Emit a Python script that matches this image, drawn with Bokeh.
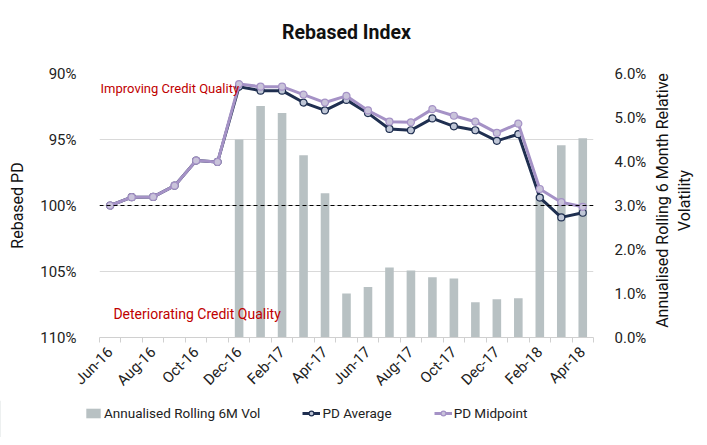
import math
from bokeh.plotting import figure
from bokeh.layouts import column, row
from bokeh.models import (Range1d, LinearAxis, FixedTicker, Span, Label, Legend,
                          LegendItem, PrintfTickFormatter)
from bokeh.embed import file_html
from bokeh.resources import INLINE

months = ["Jun-16", "Jul-16", "Aug-16", "Sep-16", "Oct-16", "Nov-16", "Dec-16",
          "Jan-17", "Feb-17", "Mar-17", "Apr-17", "May-17", "Jun-17", "Jul-17",
          "Aug-17", "Sep-17", "Oct-17", "Nov-17", "Dec-17", "Jan-18", "Feb-18",
          "Mar-18", "Apr-18"]
pd_average = [100.0, 99.37, 99.35, 98.5, 96.6, 96.7, 91.0, 91.3, 91.3, 92.2, 92.8,
              92.0, 93.0, 94.2, 94.3, 93.4, 94.0, 94.3, 95.1, 94.6, 99.4, 100.9, 100.55]
pd_midpoint = [100.0, 99.37, 99.35, 98.5, 96.6, 96.7, 90.8, 91.0, 91.0, 91.6, 92.2,
               91.7, 92.8, 93.65, 93.7, 92.7, 93.2, 93.65, 94.5, 93.8, 98.75, 99.75, 100.1]
vol = [0, 0, 0, 0, 0, 0, 4.50, 5.26, 5.10, 4.14, 3.28, 1.00, 1.15, 1.59, 1.52, 1.37,
       1.34, 0.80, 0.87, 0.89, 3.23, 4.37, 4.53]
left_ticks = [90, 95, 100, 105, 110]
right_ticks = [0, 1, 2, 3, 4, 5, 6]
series_names = ["Annualised Rolling 6M Vol", "PD Average", "PD Midpoint"]
chart_title = "Rebased Index"
right_title = ["Annualised Rolling 6 Month Relative", "Volatility"]

FONT = "Roboto"
dark = "#1f2f50"
purple = "#a592c6"
bar_color = "#b8c1c3"
dark_fill = "#bfc6d6"
purple_fill = "#c9c3da"
red = "#c00000"
x = list(range(len(months)))


def strip(width, height, xr=(0, 1), yr=(0, 1)):
    f = figure(width=width, height=height, output_backend="svg", toolbar_location=None,
               x_axis_type=None, y_axis_type=None, x_range=Range1d(*xr),
               y_range=Range1d(*yr), min_border_left=0, min_border_right=0,
               min_border_top=0, min_border_bottom=0)
    f.outline_line_color = None
    f.xgrid.grid_line_color = None
    f.ygrid.grid_line_color = None
    return f


# title strip
ts = strip(649, 45, yr=(0, 45))
ts.add_layout(Label(x=0.5, y=13, text=chart_title, text_align="center",
                    text_baseline="middle", text_font=FONT, text_font_size="19.5px",
                    text_font_style="bold", text_color="#111111"))

p = figure(width=649, height=355, output_backend="svg", toolbar_location=None,
           x_range=Range1d(-0.5, len(months) - 0.5), y_range=Range1d(110, 90),
           min_border_left=99, min_border_right=51, min_border_top=28,
           min_border_bottom=63)
p.outline_line_color = None
p.extra_y_ranges = {"vol": Range1d(0, 6)}

# left axis
ya = p.yaxis[0]
ya.ticker = FixedTicker(ticks=left_ticks)
ya.formatter = PrintfTickFormatter(format="%d%%")
ya.axis_line_color = None
ya.major_tick_line_color = None
ya.minor_tick_line_color = None
ya.major_label_text_font = FONT
ya.major_label_text_font_size = "15px"
ya.major_label_text_color = "#222222"
ya.major_label_standoff = 17
ya.axis_label = "Rebased PD"
ya.axis_label_text_font = FONT
ya.axis_label_text_font_size = "16px"
ya.axis_label_text_font_style = "normal"
ya.axis_label_text_color = "#111111"
ya.axis_label_standoff = 10

# right axis (ticks only; its title is drawn in the strip to the right)
ra = LinearAxis(y_range_name="vol", ticker=FixedTicker(ticks=right_ticks),
                formatter=PrintfTickFormatter(format="%.1f%%"))
ra.axis_line_color = None
ra.major_tick_line_color = None
ra.minor_tick_line_color = None
ra.major_label_text_font = FONT
ra.major_label_text_font_size = "15px"
ra.major_label_text_color = "#222222"
ra.major_label_standoff = 15
p.add_layout(ra, "right")

# bottom axis
xa = p.xaxis[0]
xa.ticker = FixedTicker(ticks=x[::2], minor_ticks=[i - 0.5 for i in range(len(months) + 1)])
xa.major_label_overrides = {i: months[i] for i in x}
xa.major_label_orientation = math.pi / 4
xa.major_label_text_font = FONT
xa.major_label_text_font_size = "15px"
xa.major_label_text_color = "#222222"
xa.major_label_standoff = 6
xa.axis_line_color = "#d0d0d0"
xa.major_tick_line_color = None
xa.minor_tick_line_color = "#d0d0d0"
xa.minor_tick_out = 5
xa.minor_tick_in = 0

p.xgrid.grid_line_color = None
p.ygrid.ticker = FixedTicker(ticks=left_ticks)
p.ygrid.grid_line_color = "#d9d9d9"
p.ygrid.grid_line_width = 1

p.vbar(x=x, top=vol, width=0.4, y_range_name="vol", fill_color=bar_color, line_color=None)

p.add_layout(Span(location=100, dimension="width", line_color="#000000",
                  line_dash="4 3", line_width=1))

p.line(x, pd_average, line_color=dark, line_width=3)
p.scatter(x, pd_average, size=7, fill_color=dark_fill, line_color=dark, line_width=1.2)
p.line(x, pd_midpoint, line_color=purple, line_width=3)
p.scatter(x, pd_midpoint, size=7, fill_color=purple_fill, line_color=purple, line_width=1.2)

p.add_layout(Label(x=-0.45, y=91.1, text="Improving Credit Quality", text_align="left",
                   text_baseline="middle", text_font=FONT, text_font_size="13px",
                   text_color=red))
p.add_layout(Label(x=7.94, y=108.2, text="Deteriorating Credit Quality", text_align="right",
                   text_baseline="middle", text_font=FONT, text_font_size="14px",
                   text_color=red))

# right-axis title strip
rs = strip(58, 400, xr=(0, 58))
for xx, txt in zip([13, 35], right_title):
    rs.add_layout(Label(x=xx, y=0.5, text=txt, angle=math.pi / 2, text_align="center",
                        text_baseline="middle", text_font=FONT, text_font_size="16px",
                        text_color="#111111"))

# legend strip below the chart (sample glyphs sit outside the visible range)
lg = strip(707, 37, xr=(0, 1))
rb = lg.vbar(x=[-5], top=[1], width=0.4, fill_color=bar_color, line_color=None)
r1 = lg.line(x=[-5, -4], y=[1, 1], line_color=dark, line_width=3)
r1m = lg.scatter(x=[-5], y=[1], size=7, fill_color=dark_fill, line_color=dark, line_width=1.2)
r2 = lg.line(x=[-5, -4], y=[1, 1], line_color=purple, line_width=3)
r2m = lg.scatter(x=[-5], y=[1], size=7, fill_color=purple_fill, line_color=purple, line_width=1.2)

legend = Legend(items=[LegendItem(label=series_names[0], renderers=[rb]),
                       LegendItem(label=series_names[1], renderers=[r1, r1m]),
                       LegendItem(label=series_names[2], renderers=[r2, r2m])],
                orientation="horizontal", location=(84, 15), spacing=42,
                padding=0, margin=0, border_line_color=None, background_fill_alpha=0,
                label_text_font=FONT, label_text_font_size="13.5px",
                label_text_color="#222222", glyph_width=18, glyph_height=12,
                label_height=18, label_standoff=2)
lg.add_layout(legend, "center")

layout = column(row(column(ts, p, spacing=0), rs, spacing=0), lg, spacing=0)
open("out.html", "w").write(file_html(layout, INLINE))
